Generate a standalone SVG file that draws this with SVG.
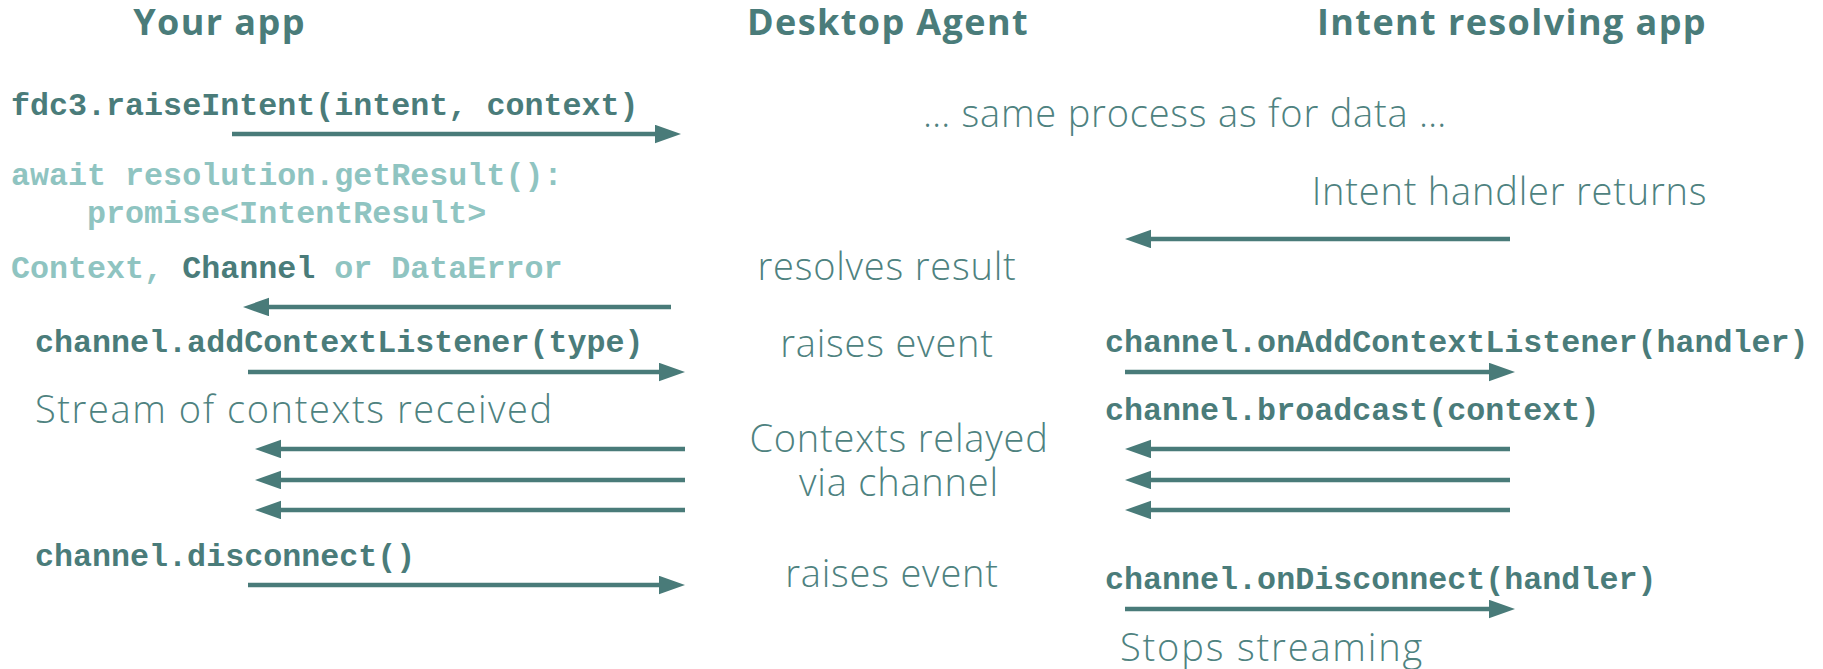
<svg xmlns="http://www.w3.org/2000/svg" width="1823" height="669" viewBox="0 0 1823 669">
<style>
.hdr{font-family:"Open Sans","Liberation Sans",sans-serif;font-weight:700;font-size:36px;fill:#4a7c7a;text-anchor:middle;letter-spacing:1.4px}
.mono{font-family:"Liberation Mono","Courier New",monospace;font-weight:700;font-size:31.7px;fill:#4a7c7a}
.lite{fill:#8fc4c1}
.body{font-family:"Open Sans","Lato","Liberation Sans",sans-serif;font-weight:300;font-size:38px;fill:#4e8280;letter-spacing:0.8px}
.mid{text-anchor:middle}
.arr{stroke:#497b79;stroke-width:4.5;fill:none;marker-end:url(#ah)}
</style>
<defs>
<marker id="ah" markerUnits="userSpaceOnUse" markerWidth="26" markerHeight="19" refX="4" refY="9.25" orient="auto">
<path d="M0,0 L26,9.25 L0,18.5 Z" fill="#497b79"/>
</marker>
</defs>
<rect width="1823" height="669" fill="#ffffff"/>
<g id="lane-your-app">
<text class="hdr" x="219.5" y="35">Your app</text>
</g>
<g id="lane-desktop-agent">
<text class="hdr" x="888" y="35">Desktop Agent</text>
</g>
<g id="lane-intent-resolving-app">
<text class="hdr" x="1512" y="35">Intent resolving app</text>
</g>
<g id="step-raise-intent">
<text class="mono" x="11" y="115">fdc3.raiseIntent(intent, context)</text>
<text class="body mid" x="1185" y="127">… same process as for data …</text>
</g>
<g id="step-get-result">
<text class="mono lite" x="11" y="185">await resolution.getResult():</text>
<text class="mono lite" x="87" y="223">promise&lt;IntentResult&gt;</text>
<text class="body mid" x="1509.5" y="205">Intent handler returns</text>
</g>
<g id="step-resolves">
<text class="mono lite" x="11" y="278">Context, <tspan fill="#4a7c7a">Channel</tspan> or DataError</text>
<text class="body mid" x="887" y="280">resolves result</text>
</g>
<g id="step-add-listener">
<text class="mono" x="35" y="352">channel.addContextListener(type)</text>
<text class="body mid" x="887" y="357">raises event</text>
<text class="mono" x="1105" y="352">channel.onAddContextListener(handler)</text>
</g>
<g id="step-stream">
<text class="body" x="35" y="423" textLength="518">Stream of contexts received</text>
<text class="body mid" x="899" y="452">Contexts relayed</text>
<text class="body mid" x="899" y="496">via channel</text>
<text class="mono" x="1105" y="420">channel.broadcast(context)</text>
</g>
<g id="step-disconnect">
<text class="mono" x="35" y="566">channel.disconnect()</text>
<text class="body mid" x="892" y="587">raises event</text>
<text class="mono" x="1105" y="589">channel.onDisconnect(handler)</text>
<text class="body" x="1120" y="661" textLength="303">Stops streaming</text>
</g>
<g id="connectors">
<line class="arr" x1="232" y1="134" x2="659" y2="134"/>
<line class="arr" x1="671" y1="307" x2="265" y2="307"/>
<line class="arr" x1="1510" y1="239" x2="1147" y2="239"/>
<line class="arr" x1="248" y1="372" x2="663" y2="372"/>
<line class="arr" x1="685" y1="449" x2="277" y2="449"/>
<line class="arr" x1="685" y1="480" x2="277" y2="480"/>
<line class="arr" x1="685" y1="510" x2="277" y2="510"/>
<line class="arr" x1="248" y1="585" x2="663" y2="585"/>
<line class="arr" x1="1125" y1="372" x2="1493" y2="372"/>
<line class="arr" x1="1510" y1="449" x2="1147" y2="449"/>
<line class="arr" x1="1510" y1="480" x2="1147" y2="480"/>
<line class="arr" x1="1510" y1="510" x2="1147" y2="510"/>
<line class="arr" x1="1125" y1="609" x2="1493" y2="609"/>
</g>
</svg>
